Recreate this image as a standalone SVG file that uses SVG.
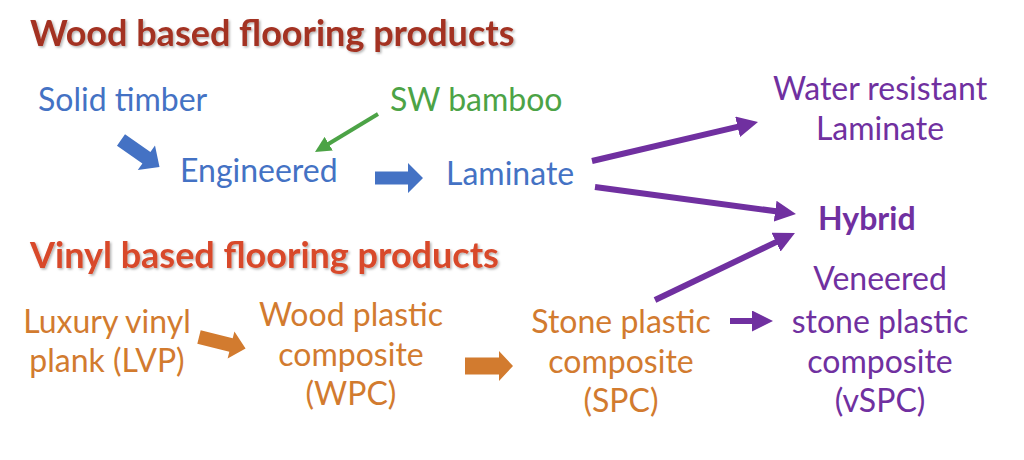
<svg xmlns="http://www.w3.org/2000/svg" width="1024" height="460" viewBox="0 0 1024 460">
<defs>
<style>
text{font-family:Lato,"Open Sans","Noto Sans",sans-serif;font-size:32px}
.title{font-weight:bold;font-size:36px;filter:url(#sh)}
.blue{fill:#4472C4}
.green{fill:#4CA346}
.purple{fill:#7030A0}
.orange{fill:#D27B2F}
.mid{text-anchor:middle}
.pl{stroke:#7030A0;stroke-width:6;fill:none}
</style>
<filter id="sh" x="-5%" y="-20%" width="110%" height="150%">
<feDropShadow dx="1.5" dy="1.5" stdDeviation="1.2" flood-color="#000" flood-opacity="0.3"/>
</filter>
<marker id="mp" viewBox="0 0 10 10" refX="3" refY="5" markerWidth="3.5" markerHeight="3.5" orient="auto" markerUnits="strokeWidth">
<path d="M0,0 L10,5 L0,10 z" fill="#7030A0"/>
</marker>
<marker id="mg" viewBox="0 0 10 10" refX="3" refY="5" markerWidth="4" markerHeight="4" orient="auto" markerUnits="strokeWidth">
<path d="M0,0 L10,5 L0,10 z" fill="#4CA346"/>
</marker>
</defs>
<rect width="1024" height="460" fill="#fff"/>

<g id="title-wood"><text class="title" x="30" y="46" fill="#A33222">Wood based flooring products</text></g>
<g id="title-vinyl"><text class="title" x="30" y="268" fill="#D8482A">Vinyl based flooring products</text></g>

<g id="solid-timber"><text class="blue" x="38" y="111">Solid timber</text></g>
<g id="sw-bamboo"><text class="green" x="390" y="111">SW bamboo</text></g>
<g id="engineered"><text class="blue" x="180" y="182">Engineered</text></g>
<g id="laminate"><text class="blue" x="446" y="185">Laminate</text></g>
<g id="water-resistant"><text class="purple mid" x="880" y="100">Water resistant</text><text class="purple mid" x="880" y="140">Laminate</text></g>
<g id="hybrid"><text class="purple" x="818" y="230" font-weight="bold">Hybrid</text></g>
<g id="lvp"><text class="orange mid" x="107" y="333">Luxury vinyl</text><text class="orange mid" x="107" y="372">plank (LVP)</text></g>
<g id="wpc"><text class="orange mid" x="351" y="326">Wood plastic</text><text class="orange mid" x="351" y="366">composite</text><text class="orange mid" x="351" y="405">(WPC)</text></g>
<g id="spc"><text class="orange mid" x="621" y="333">Stone plastic</text><text class="orange mid" x="621" y="373">composite</text><text class="orange mid" x="621" y="412">(SPC)</text></g>
<g id="vspc"><text class="purple mid" x="880" y="290">Veneered</text><text class="purple mid" x="880" y="333">stone plastic</text><text class="purple mid" x="880" y="373">composite</text><text class="purple mid" x="880" y="412">(vSPC)</text></g>

<g id="connectors">
<polygon transform="translate(121,140) rotate(35)" points="0,-7 31,-7 31,-15 47,0 31,15 31,7 0,7" fill="#4472C4"/>
<polygon transform="translate(375,178)" points="0,-6.5 33,-6.5 33,-15 48,0 33,15 33,6.5 0,6.5" fill="#4472C4"/>
<polygon transform="translate(199,337) rotate(14)" points="0,-7 33,-7 33,-14 48,0 33,14 33,7 0,7" fill="#D27B2F"/>
<polygon transform="translate(465,366)" points="0,-8.5 34,-8.5 34,-15 48,0 34,15 34,8.5 0,8.5" fill="#D27B2F"/>
<line x1="378" y1="114" x2="324.6" y2="146.2" stroke="#4CA346" stroke-width="4" marker-end="url(#mg)"/>
<line class="pl" x1="592" y1="161" x2="743.7" y2="125.4" marker-end="url(#mp)"/>
<line class="pl" x1="595" y1="187" x2="781.4" y2="212" marker-end="url(#mp)"/>
<line class="pl" x1="655" y1="300" x2="781.7" y2="239.4" marker-end="url(#mp)"/>
<line class="pl" x1="730" y1="321" x2="758.3" y2="321" marker-end="url(#mp)"/>
</g>
</svg>
